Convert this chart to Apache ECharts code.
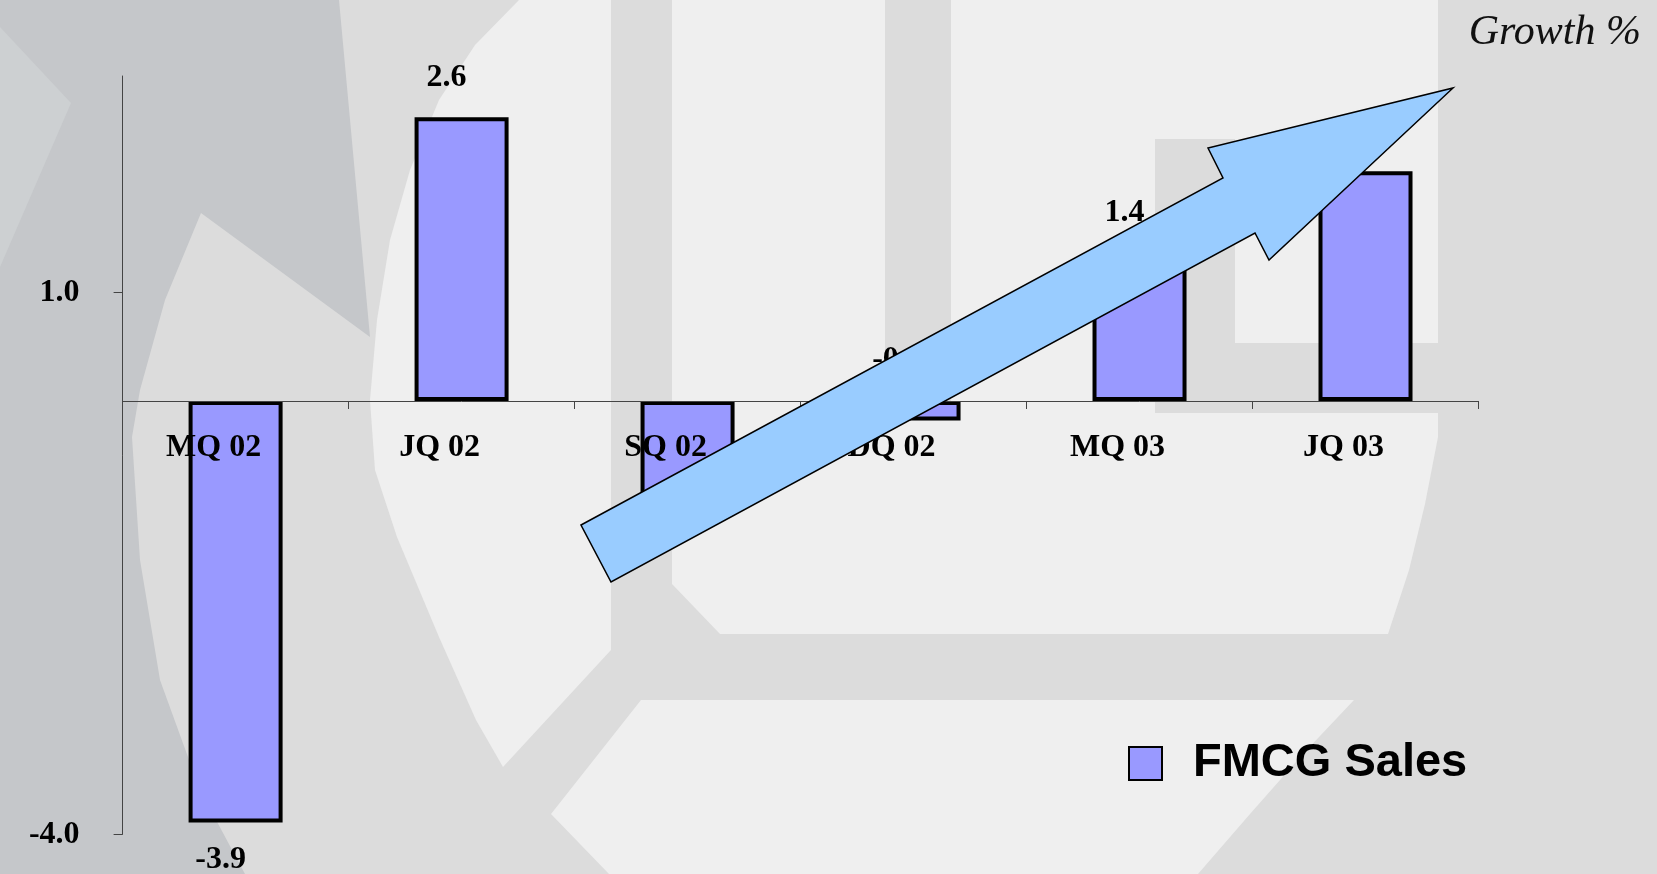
<!DOCTYPE html>
<html>
<head>
<meta charset="utf-8">
<script src="https://cdn.jsdelivr.net/npm/echarts@6/dist/echarts.min.js"></script>
<style>
html,body{margin:0;padding:0;background:#dcdcdc;}
#chart{width:1657px;height:874px;}
</style>
</head>
<body>
<div id="chart"></div>
<script>
// ---- data ----
const categories = ['MQ 02', 'JQ 02', 'SQ 02', 'DQ 02', 'MQ 03', 'JQ 03'];
const fmcgSales = [-3.89, 2.62, -0.9, -0.18, 1.38, 2.12];
const yTickValues = [-4, 1];
const yMin = -4, yMax = 3;
const seriesName = 'FMCG Sales';
const unitTitle = 'Growth %';

// ---- decoration (background watermark + arrow) ----
const LIGHT = '#efefef', DARK = '#c5c7ca', MID = '#cdd0d2';
const bgShapes = [
  {pts: [[0,0],[339,0],[370,337],[201,213],[165,300],[140,390],[132,437],[140,560],[160,680],[200,790],[245,874],[0,874]], fill: DARK},
  {pts: [[0,27],[71,103],[0,267]], fill: MID},
  {pts: [[519,0],[611,0],[611,650],[503,767],[476,720],[439,637],[397,537],[375,470],[370,400],[377,320],[390,240],[410,170],[439,100],[475,45]], fill: LIGHT},
  {pts: [[672,0],[1438,0],[1438,437],[1425,504],[1409,570],[1388,634],[720,634],[672,584]], fill: LIGHT},
  {pts: [[551,814],[641,700],[1354,700],[1303,754],[1250,814],[1198,874],[609,874]], fill: LIGHT}
];
const bgRects = [
  [885, 0, 66, 413],
  [1155, 139, 80, 274],
  [1155, 343, 283, 70]
];
const arrowPts = [[581,525],[1223,178],[1208,148],[1453,88],[1269,260],[1255,233],[611,582]];

const graphics = [];
bgShapes.forEach(s => graphics.push({type: 'polygon', z: -10, silent: true, shape: {points: s.pts}, style: {fill: s.fill}}));
bgRects.forEach(r => graphics.push({type: 'rect', z: -9, silent: true, shape: {x: r[0], y: r[1], width: r[2], height: r[3]}, style: {fill: '#dcdcdc'}}));
graphics.push({type: 'polygon', z: 100, silent: true, shape: {points: arrowPts}, style: {fill: '#99ccff', stroke: '#000', lineWidth: 1.5}});

const serifBold = {fontFamily: 'Liberation Serif', fontWeight: 'bold', fontSize: 32, color: '#000'};

const barData = fmcgSales.map((v, i) => {
  const label = {position: v >= 0 ? 'top' : 'bottom', distance: v >= 0 ? 23 : 21, offset: [-15, 0]};
  if (i === 3) { label.position = 'top'; label.distance = 22; label.offset = [-16, -3]; } // lifted above the axis, as in the original
  if (i === 2) { label.distance = 2; }                                                     // tucked under the arrow, as in the original
  return {value: v, label: label};
});

const H = 874, gridTop = 76, gridBottom = 39.7;
const plotH = H - gridTop - gridBottom;
const zeroOffset = -plotH * (0 - yMin) / (yMax - yMin);

const chart = echarts.init(document.getElementById('chart'), null, {renderer: 'canvas'});
chart.setOption({
  backgroundColor: '#dcdcdc',
  animation: false,
  title: {
    text: unitTitle, right: 16, top: 12, padding: 0,
    textStyle: {fontFamily: 'Liberation Serif', fontStyle: 'italic', fontWeight: 'normal', fontSize: 42, color: '#111'}
  },
  legend: {
    data: [seriesName], left: 1128, top: 740, padding: 0, icon: 'rect', itemWidth: 33, itemHeight: 33,
    textStyle: {fontFamily: 'Liberation Sans', fontWeight: 'bold', fontSize: 47, color: '#000', padding: [0, 0, 0, 26]}
  },
  grid: {left: 122.6, right: 178.5, top: gridTop, bottom: gridBottom, containLabel: false, outerBoundsMode: 'none'},
  xAxis: {
    type: 'category', data: categories, offset: zeroOffset, z: 10,
    axisLine: {onZero: false, lineStyle: {color: '#444', width: 1}},
    axisTick: {show: true, length: 8, alignWithLabel: false, lineStyle: {color: '#444'}},
    axisLabel: Object.assign({margin: 31, padding: [0, 44, 0, 0], interval: 0}, serifBold),
    splitLine: {show: false}
  },
  yAxis: {
    type: 'value', min: yMin, max: yMax,
    axisLine: {show: true, lineStyle: {color: '#444', width: 1}},
    axisTick: {show: true, length: 9, customValues: yTickValues, lineStyle: {color: '#444'}},
    axisLabel: Object.assign({customValues: yTickValues, margin: 43, formatter: v => v.toFixed(1)}, serifBold),
    splitLine: {show: false}
  },
  series: [{
    name: seriesName, type: 'bar', barWidth: '41.6%', z: 2,
    itemStyle: {color: '#9999ff', borderColor: '#000', borderWidth: 4},
    label: Object.assign({show: true, formatter: p => p.value.toFixed(1)}, serifBold),
    data: barData
  }],
  graphic: graphics
});
</script>
</body>
</html>
